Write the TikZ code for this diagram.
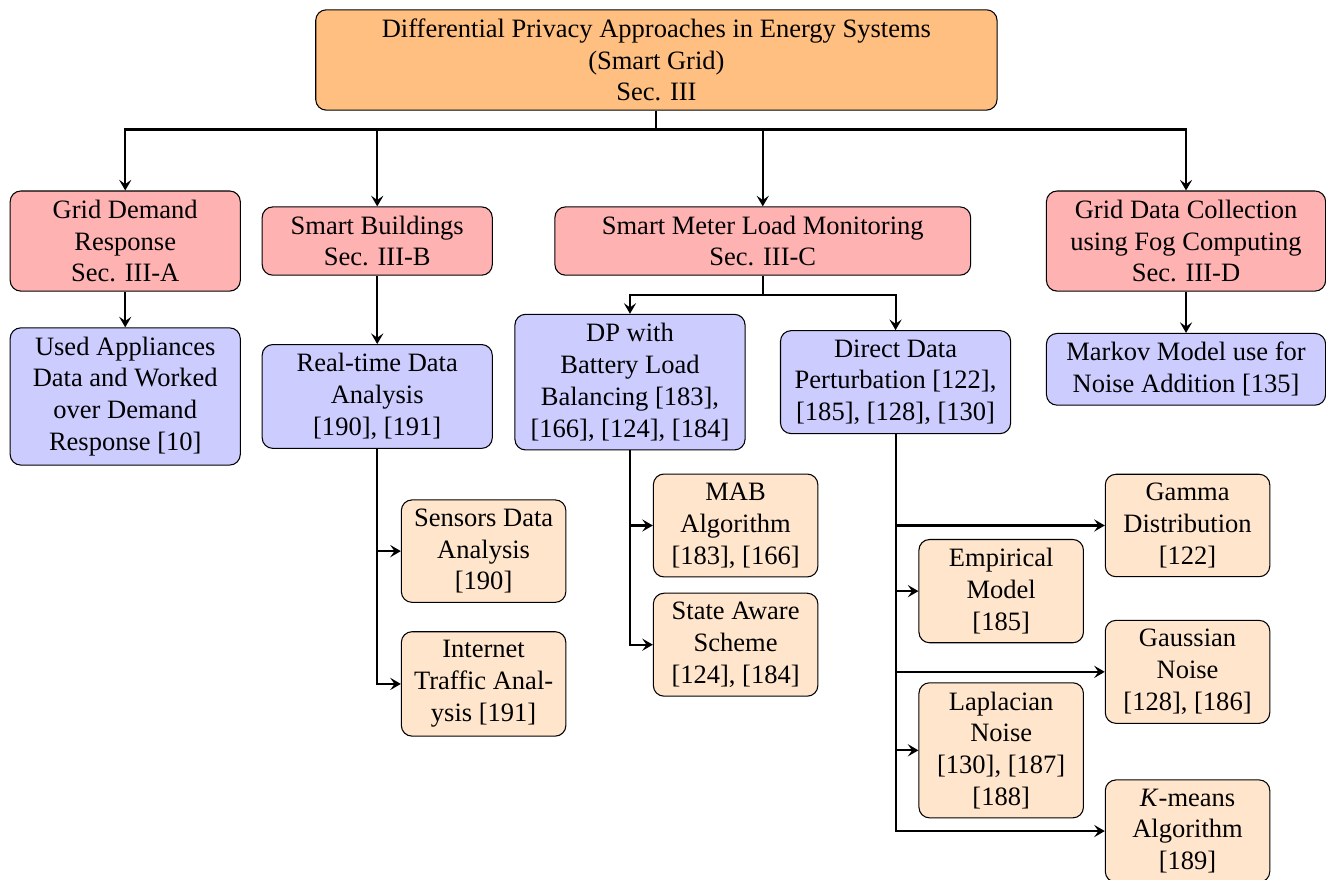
\documentclass[tikz,border=0pt]{standalone}
\usepackage{fontspec}
\setmainfont{Liberation Serif}
\usetikzlibrary{arrows.meta,positioning}
\tikzset{%
  >={Stealth[length=4pt,width=4.6pt,inset=1.6pt]},
  % Specifications for style of nodes:
            base/.style = {rectangle, rounded corners, draw=black,
                           align=center},
         rootbox/.style = {base, fill=orange!50, minimum width=9.03cm},
          redbox/.style = {base, fill=red!30, minimum width=3.05cm},
         bluebox/.style = {base, fill=blue!20, minimum width=3.05cm},
         leafbox/.style = {base, fill=orange!20, minimum width=2.18cm},
}

\begin{document}
\begin{tikzpicture}[node distance=2.4cm]
  \useasboundingbox (-8.70,0.795) rectangle (8.875,-10.868);
  % Specification of nodes (position, etc.)
  \node (top)       [rootbox] {Differential Privacy Approaches in Energy Systems\\(Smart Grid)\\Sec. III};
  \node (demand)    [redbox, below of=top, xshift=-7.04cm] {Grid Demand\\Response\\Sec. III-A};
  \node (building)  [redbox, below of=top, xshift=-3.70cm] {Smart Buildings\\Sec. III-B};
  \node (meter)     [redbox, below of=top, xshift=1.41cm, minimum width=5.51cm] {Smart Meter Load Monitoring\\Sec. III-C};
  \node (fog)       [redbox, below of=top, xshift=7.02cm, minimum width=3.70cm] {Grid Data Collection\\using Fog Computing\\Sec. III-D};

  \node (appliance) [bluebox, below of=demand, yshift=0.34cm] {Used Appliances\\Data and Worked\\over Demand\\Response [10]};
  \node (realtime)  [bluebox, below of=building, yshift=0.34cm] {Real-time Data\\Analysis\\{[190], [191]}};
  \node (battery)   [bluebox, below of=meter, xshift=-1.76cm, yshift=0.53cm] {DP with\\Battery Load\\Balancing [183],\\{[166], [124], [184]}};
  \node (direct)    [bluebox, below of=meter, xshift=1.76cm, yshift=0.53cm] {Direct Data\\Perturbation [122],\\{[185], [128], [130]}};
  \node (markov)    [bluebox, below of=fog, yshift=0.70cm, minimum width=3.70cm] {Markov Model use for\\Noise Addition [135]};

  \node (sensor)    [leafbox, below of=realtime, xshift=1.41cm, yshift=0.35cm] {Sensors Data\\Analysis\\{[190]}};
  \node (traffic)   [leafbox, below of=sensor, yshift=0.64cm] {Internet\\Traffic Anal-\\ysis [191]};
  \node (mab)       [leafbox, below of=battery, xshift=1.40cm, yshift=0.50cm] {MAB\\Algorithm\\{[183], [166]}};
  \node (state)     [leafbox, below of=mab, yshift=0.82cm] {State Aware\\Scheme\\{[124], [184]}};
  \node (gamma)     [leafbox, below of=direct, xshift=3.87cm, yshift=0.50cm] {Gamma\\Distribution\\{[122]}};
  \node (empirical) [leafbox, below of=direct, xshift=1.40cm, yshift=-0.37cm] {Empirical\\Model\\{[185]}};
  \node (gauss)     [leafbox, below of=gamma, yshift=0.46cm] {Gaussian\\Noise\\{[128], [186]}};
  \node (laplace)   [leafbox, below of=empirical, yshift=0.29cm] {Laplacian\\Noise\\{[130], [187]}\\{[188]}};
  \node (kmeans)    [leafbox, below of=gauss, yshift=0.29cm] {\textit{K}-means\\Algorithm\\{[189]}};

  % Specification of lines between nodes specified above
  \coordinate (split) at ([yshift=-0.25cm]top.south);
  \coordinate (meterhub) at ([yshift=-0.26cm]meter.south);
\draw[thick]      (top) -- (split);
\draw[->, thick]  (split) -| (demand);
\draw[->, thick]  (split) -| (building);
\draw[->, thick]  (split) -| (meter);
\draw[->, thick]  (split) -| (fog);
\draw[->, thick]  (demand) -- (appliance);
\draw[->, thick]  (building) -- (realtime);
\draw[->, thick]  (fog) -- (markov);
\draw[thick]      (meter) -- (meterhub);
\draw[->, thick]  (meterhub) -| (battery);
\draw[->, thick]  (meterhub) -| (direct);
\draw[->, thick]  (realtime) |- (sensor);
\draw[->, thick]  (realtime) |- (traffic);
\draw[->, thick]  (battery) |- (mab);
\draw[->, thick]  (battery) |- (state);
\draw[->, thick]  (direct) |- (gamma);
\draw[->, thick]  (direct) |- (empirical);
\draw[->, thick]  (direct) |- (gauss);
\draw[->, thick]  (direct) |- (laplace);
\draw[->, thick]  (direct) |- (kmeans);
\end{tikzpicture}
\end{document}
